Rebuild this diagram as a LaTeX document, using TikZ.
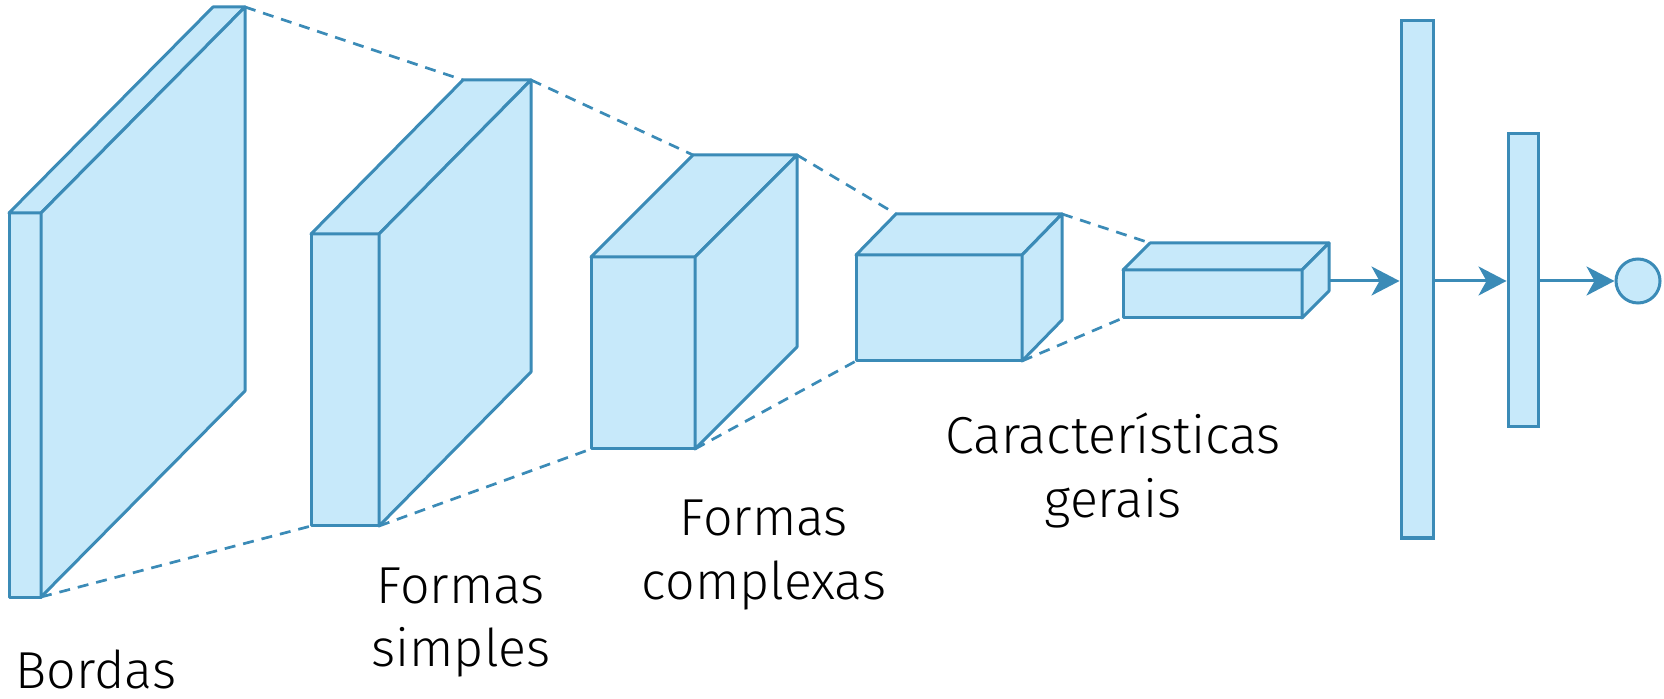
\documentclass[tikz,border=0pt]{standalone}
\usepackage{fontspec}
\setmainfont{Fira Sans Light}
\usetikzlibrary{arrows.meta}
\definecolor{cnnfill}{RGB}{199,233,250}
\definecolor{cnnline}{RGB}{59,139,183}
\newcommand{\mycuboid}[7]{%
  \coordinate (#1-ftl) at (#2,#3);
  \coordinate (#1-ftr) at (#4,#3);
  \coordinate (#1-fbl) at (#2,#5);
  \coordinate (#1-fbr) at (#4,#5);
  \coordinate (#1-btl) at (#2+#6,#3-#7);
  \coordinate (#1-btr) at (#4+#6,#3-#7);
  \coordinate (#1-bbr) at (#4+#6,#5-#7);
  \filldraw[layer] (#1-ftl) rectangle (#1-fbr);
  \filldraw[layer] (#1-ftl) -- (#1-btl) -- (#1-btr) -- (#1-ftr) -- cycle;
  \filldraw[layer] (#1-ftr) -- (#1-btr) -- (#1-bbr) -- (#1-fbr) -- cycle;
}
\begin{document}
\begin{tikzpicture}[x=0.5pt,y=-0.5pt,
  layer/.style={draw=cnnline, fill=cnnfill, line width=1.5pt, line join=round},
  guide/.style={draw=cnnline, line width=1.35pt, dash pattern=on 5.5pt off 4pt},
  arr/.style={draw=cnnline, line width=1.5pt, -{Stealth[length=14pt,width=14.5pt,inset=4pt]}},
  dense/.style={draw=cnnline, fill=cnnfill, line width=1.5pt, rectangle, inner sep=0pt},
  lbl/.style={anchor=base, inner sep=0pt, text=black, font=\fontsize{26}{32}\selectfont}]
\useasboundingbox (0,0) rectangle (1664,699);
% feature maps
\mycuboid{b1}{9}{213}{41}{597}{204}{206}
\mycuboid{b2}{311}{234}{379}{526}{152}{154}
\mycuboid{b3}{591}{257}{695}{449}{102}{102}
\mycuboid{b4}{856}{255}{1022}{361}{40}{41}
\mycuboid{b5}{1123}{270}{1302}{318}{27}{27}
% projection lines
\draw[guide] (b1-btr) -- (b2-btl);
\draw[guide] (b1-fbr) -- (b2-fbl);
\draw[guide] (b2-btr) -- (b3-btl);
\draw[guide] (b2-fbr) -- (b3-fbl);
\draw[guide] (b3-btr) -- (b4-btl);
\draw[guide] (b3-fbr) -- (b4-fbl);
\draw[guide] (b4-btr) -- (b5-btl);
\draw[guide] (b4-fbr) -- (b5-fbl);
% dense layers
\node[dense, minimum width=16pt, minimum height=258.5pt] (d1) at (1417,279.5) {};
\node[dense, minimum width=15pt, minimum height=146.5pt] (d2) at (1523,280.5) {};
\node[dense, circle, minimum size=22pt] (out) at (1638,281) {};
\coordinate (b5out) at (1329,281);
\draw[arr] (b5out) -- (b5out -| d1.west);
\draw[arr] (b5out -| d1.east) -- (b5out -| d2.west);
\draw[arr] (b5out -| d2.east) -- (out.west);
% labels
\node[lbl] (lb1) at (96,688) {Bordas};
\node[lbl] (lb2) at (461,603) {\begin{tabular}[t]{@{}c@{}}Formas\\simples\end{tabular}};
\node[lbl] (lb3) at (764,536) {\begin{tabular}[t]{@{}c@{}}Formas\\complexas\end{tabular}};
\node[lbl] (lb4) at (1113,454) {\begin{tabular}[t]{@{}c@{}}Características\\gerais\end{tabular}};
\end{tikzpicture}
\end{document}
